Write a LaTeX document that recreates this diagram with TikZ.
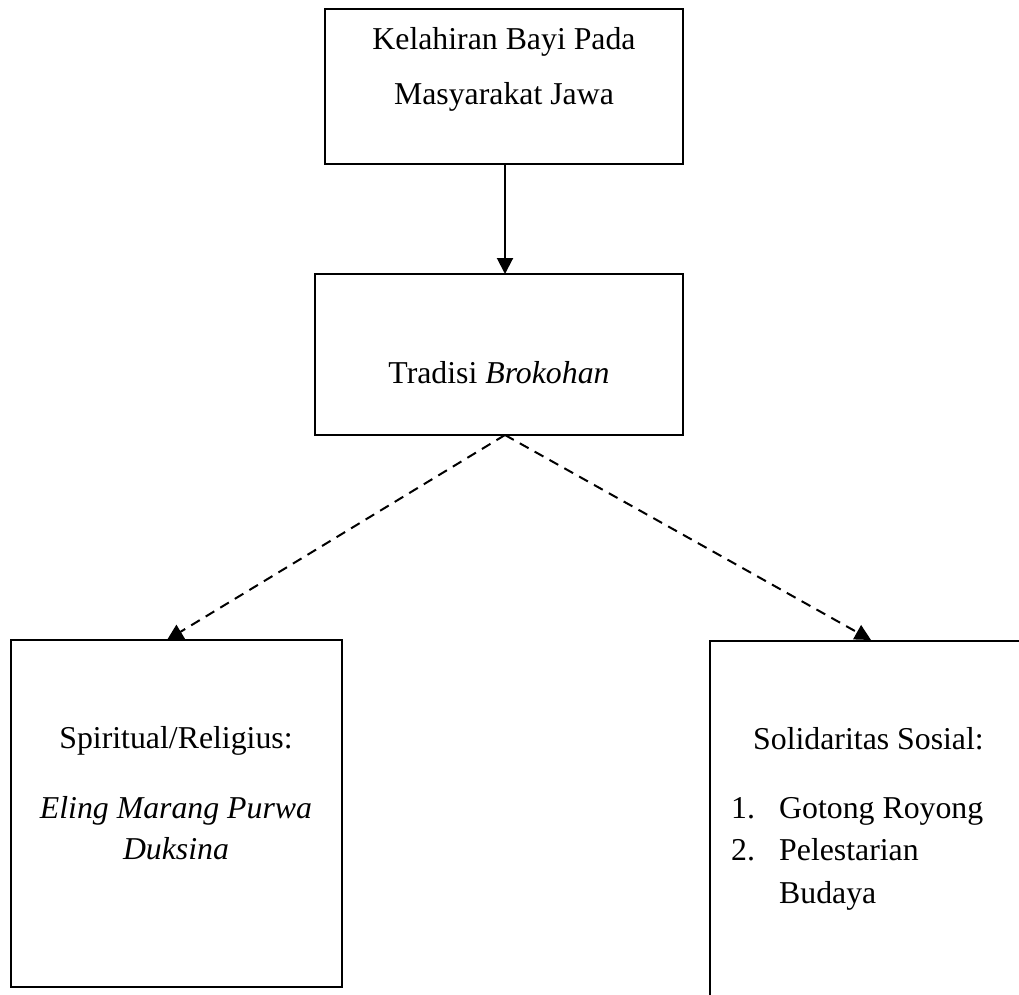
\documentclass[tikz,border=0pt]{standalone}
\usepackage{fontspec}
\setmainfont{Liberation Serif}
\usetikzlibrary{arrows.meta}
\begin{document}
\begin{tikzpicture}[x=1pt,y=-1pt,
  boxshape/.style={draw,line width=2pt,rectangle,inner sep=0pt},
  txt/.style={inner sep=0pt,font=\fontsize{31.8}{42}\selectfont},
  conn/.style={line width=2pt,-{Triangle[length=16pt,width=16pt]}},
  dconn/.style={conn,dash pattern=on 10pt off 7pt}]
\useasboundingbox (0,0) rectangle (1019,994);
\clip (0,0) rectangle (1019,994);
% boxes
\node[boxshape,minimum width=358pt,minimum height=155pt] (top) at (504,86.5) {};
\node[boxshape,minimum width=368pt,minimum height=161pt] (mid) at (499,354.5) {};
\node[boxshape,minimum width=331pt,minimum height=347pt] (left) at (176.5,813.5) {};
\node[boxshape,minimum width=340pt,minimum height=400pt,anchor=north west] (right) at (709,640) {};
% texts
\node[txt,anchor=base] (t1) at (504,49) {Kelahiran Bayi Pada};
\node[txt,anchor=base] (t2) at (504,104) {Masyarakat Jawa};
\node[txt,anchor=base] (m1) at (499,383) {Tradisi \textit{Brokohan}};
\node[txt,anchor=base] (l1) at (176,748) {Spiritual/Religius:};
\node[txt,anchor=base] (l2) at (176,818) {\textit{Eling Marang Purwa}};
\node[txt,anchor=base] (l3) at (176,859) {\textit{Duksina}};
\node[txt,anchor=base west] (r1) at (753,749) {Solidaritas Sosial:};
\node[txt,anchor=base west] (r2n) at (731,818) {1.};
\node[txt,anchor=base west] (r2) at (779,818) {Gotong Royong};
\node[txt,anchor=base west] (r3n) at (731,860) {2.};
\node[txt,anchor=base west] (r3) at (779,860) {Pelestarian};
\node[txt,anchor=base west] (r4) at (779,903) {Budaya};
% connectors
\coordinate (midtop) at (505,274);
\coordinate (lt) at (167,640);
\coordinate (rt) at (871,640);
\coordinate (ms) at (505,435);
\draw[conn] (top.south -| midtop) -- (midtop);
\draw[dconn] (ms) -- (lt);
\draw[dconn] (ms) -- (rt);
\end{tikzpicture}
\end{document}
